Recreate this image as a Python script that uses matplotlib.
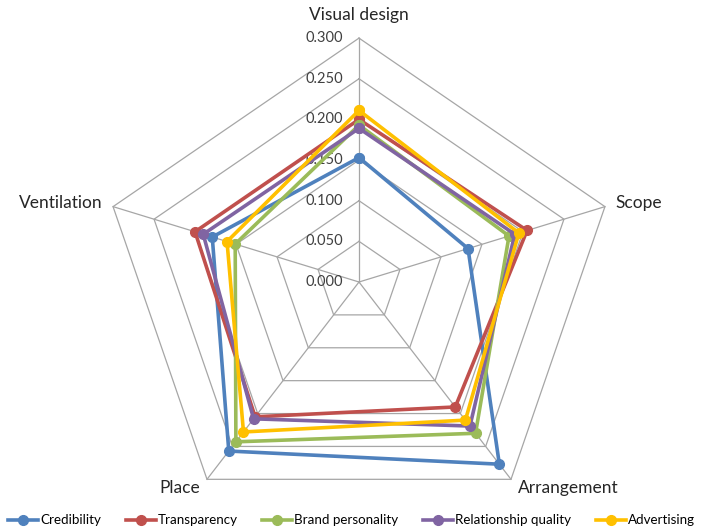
import numpy as np
import matplotlib.pyplot as plt

# Radar chart: five brand attributes across five dimensions
dimensions = ["Visual design", "Scope", "Arrangement", "Place", "Ventilation"]
series_names = ["Credibility", "Transparency", "Brand personality",
                "Relationship quality", "Advertising"]
credibility = [0.153, 0.133, 0.277, 0.257, 0.179]
transparency = [0.200, 0.205, 0.190, 0.205, 0.200]
brand_personality = [0.193, 0.183, 0.230, 0.243, 0.151]
relationship_quality = [0.189, 0.190, 0.219, 0.208, 0.190]
advertising = [0.211, 0.195, 0.210, 0.228, 0.161]
ticks = [0.0, 0.05, 0.10, 0.15, 0.20, 0.25, 0.30]

colors = ["#4F81BD", "#C0504D", "#9BBB59", "#8064A2", "#FFC000"]
series = [credibility, transparency, brand_personality, relationship_quality, advertising]

plt.rcParams["font.family"] = ["Lato", "DejaVu Sans"]

angles = np.radians(90 - 72 * np.arange(len(dimensions)))


def to_xy(values):
    v = np.asarray(values)
    return v * np.cos(angles), v * np.sin(angles)


fig = plt.figure(figsize=(7.06, 5.31), dpi=100)
ax = fig.add_axes([0, 0, 1, 1])
# slightly wider horizontally than vertically, like the original sheet
sx, sy = 862, 813
ax.set_xlim(-359 / sx, (706 - 359) / sx)
ax.set_ylim(-(531 - 282) / sy, 282 / sy)
ax.axis("off")

grid_color = "#A6A6A6"
for t in ticks[1:]:
    gx, gy = to_xy([t] * 5)
    ax.plot(np.append(gx, gx[0]), np.append(gy, gy[0]), color=grid_color, lw=0.9, zorder=1)
ox, oy = to_xy([ticks[-1]] * 5)
for x, y in zip(ox, oy):
    ax.plot([0, x], [0, y], color=grid_color, lw=0.9, zorder=1)

for t in ticks:
    ax.text(-0.018, t, f"{t:.3f}", ha="right", va="center", fontsize=10.5, color="#404040")

label_pos = [(0.0, 0.3284, "center"),
             (0.297, 0.0972, "left"),
             (0.1845, -0.2534, "left"),
             (-0.1845, -0.2534, "right"),
             (-0.298, 0.0972, "right")]
for name, (x, y, ha) in zip(dimensions, label_pos):
    ax.text(x, y, name, ha=ha, va="center", fontsize=12.5, color="#262626")

handles = []
for name, vals, c in zip(series_names, series, colors):
    px, py = to_xy(vals)
    h, = ax.plot(np.append(px, px[0]), np.append(py, py[0]), color=c, lw=2.6,
                 marker="o", markersize=7, label=name, zorder=3)
    handles.append(h)

fig.legend(handles=handles, loc="lower left", bbox_to_anchor=(0.0, -0.006), ncol=5,
           frameon=False, fontsize=9.6, handlelength=2.25, handletextpad=0.15,
           columnspacing=1.85, borderaxespad=0.2)

fig.savefig("out.png", dpi=100)
